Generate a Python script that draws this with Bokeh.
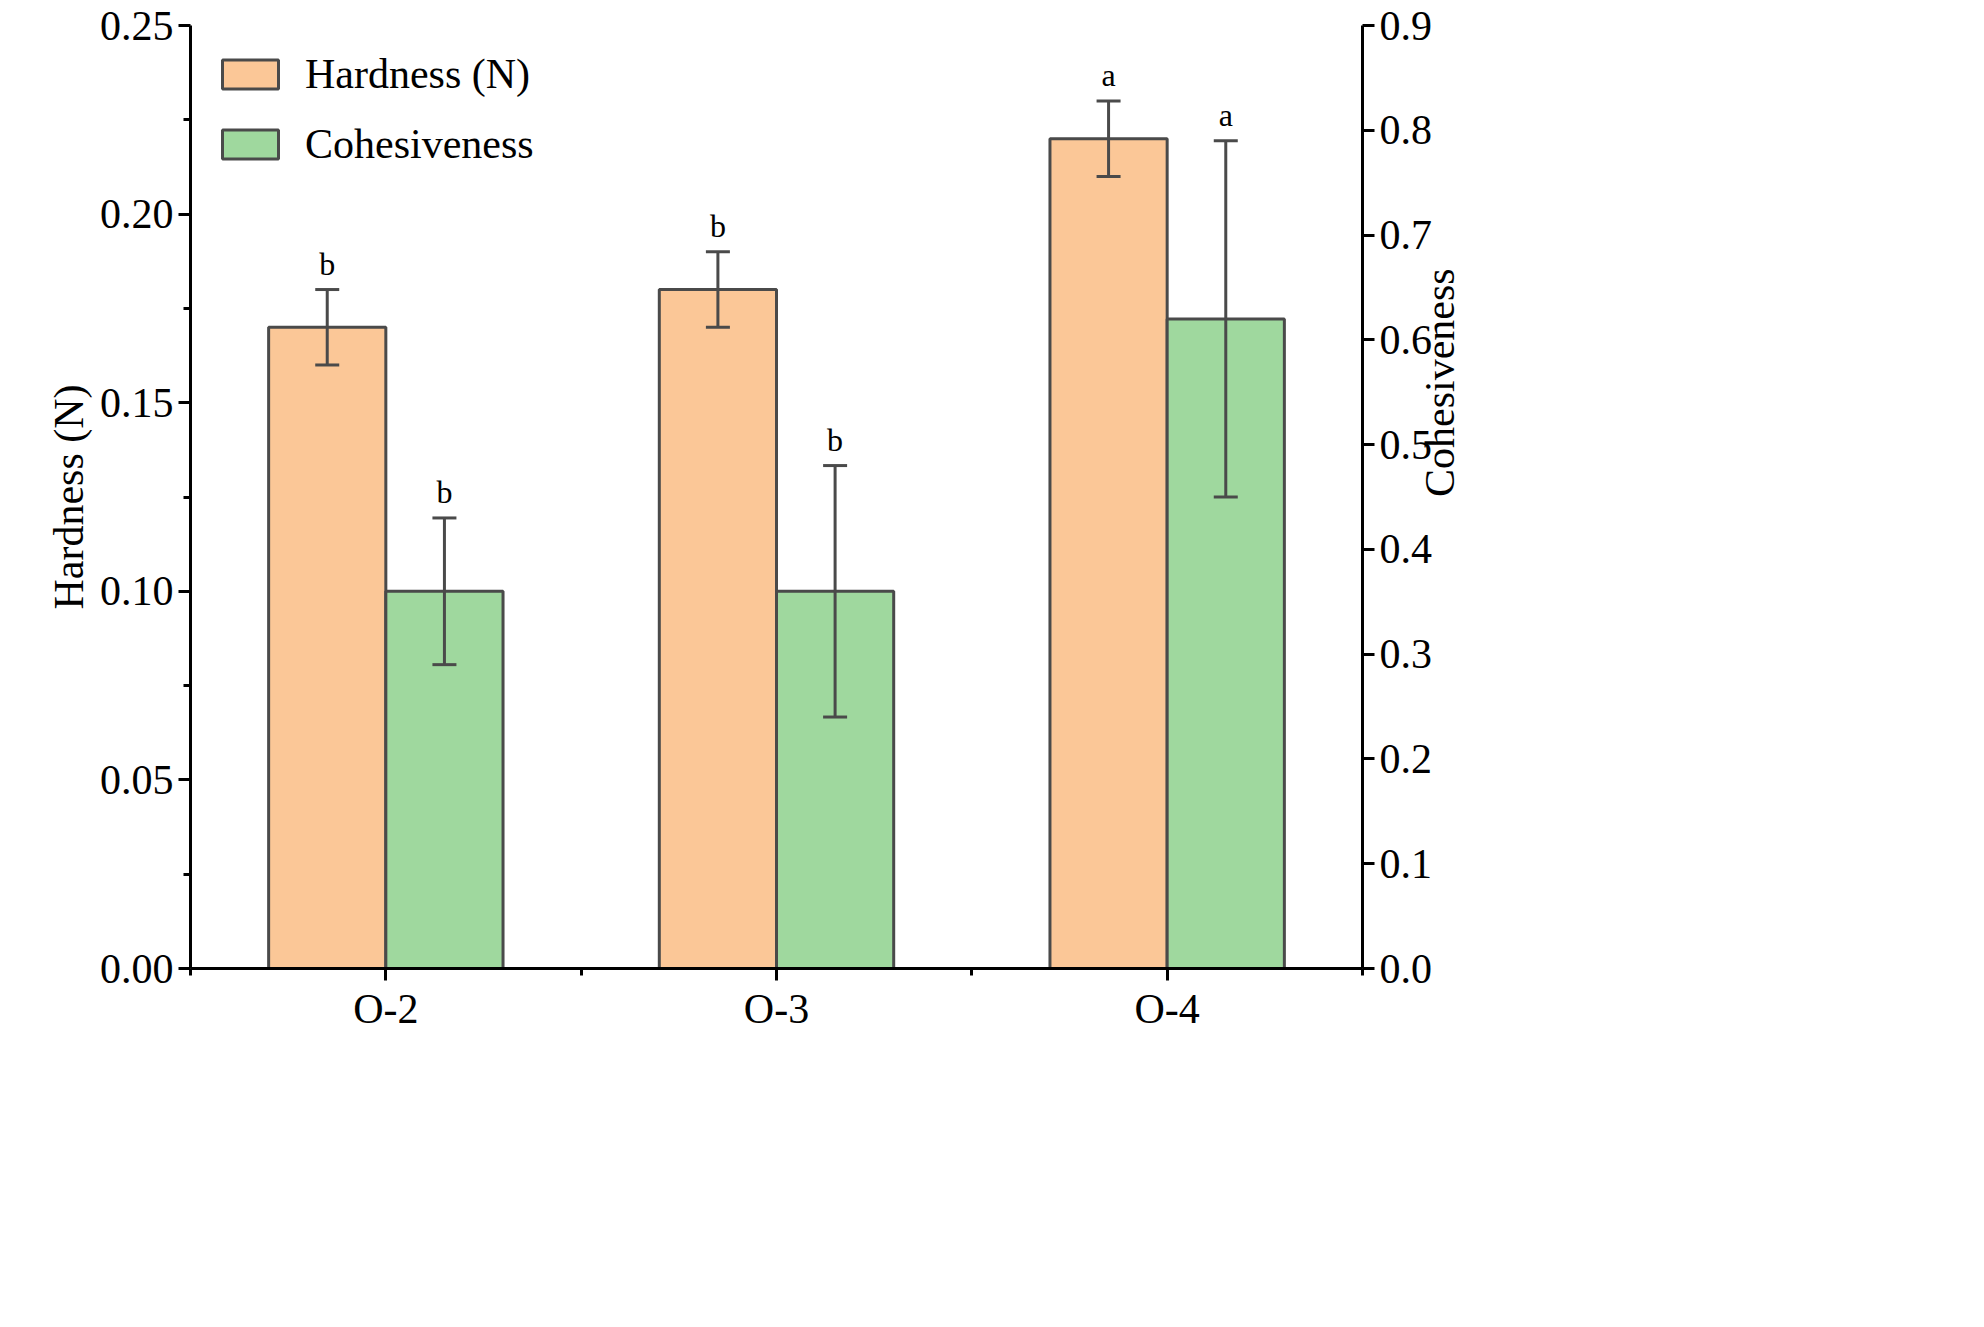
import math
from bokeh.plotting import figure
from bokeh.models import Range1d, LinearAxis, FixedTicker, Whisker, TeeHead, ColumnDataSource, Legend, LegendItem, CustomJSTickFormatter
from bokeh.core.properties import value
from bokeh.embed import file_html
from bokeh.resources import INLINE

categories = ["O-2", "O-3", "O-4"]
hardness = [0.17, 0.18, 0.22]
hardness_err = [0.01, 0.01, 0.01]
hardness_sig = ["b", "b", "a"]
cohesiveness = [0.36, 0.36, 0.62]
cohesiveness_err = [0.07, 0.12, 0.17]
cohesiveness_sig = ["b", "b", "a"]

FONT = "Liberation Serif"
x = [1, 2, 3]
W = 0.3

p = figure(frame_width=1172, frame_height=943, x_range=Range1d(0.5, 3.5), y_range=Range1d(0, 0.25),
           output_backend="svg", toolbar_location=None, min_border_left=190, min_border_right=170,
           min_border_top=25, min_border_bottom=70)
p.outline_line_color = None
p.grid.grid_line_color = None
p.extra_y_ranges = {"coh": Range1d(0, 0.9)}

hs = ColumnDataSource(dict(x=[v - W / 2 for v in x], y=hardness, lo=[a - b for a, b in zip(hardness, hardness_err)],
                           hi=[a + b for a, b in zip(hardness, hardness_err)], t=hardness_sig))
cs = ColumnDataSource(dict(x=[v + W / 2 for v in x], y=cohesiveness, lo=[a - b for a, b in zip(cohesiveness, cohesiveness_err)],
                           hi=[a + b for a, b in zip(cohesiveness, cohesiveness_err)], t=cohesiveness_sig))

r1 = p.vbar(x="x", top="y", width=W, source=hs, fill_color="#FBC797", line_color="#4a4a4a", line_width=3)
r2 = p.vbar(x="x", top="y", width=W, source=cs, fill_color="#9FD89E", line_color="#4a4a4a", line_width=3, y_range_name="coh")

for src, rn in ((hs, "default"), (cs, "coh")):
    w = Whisker(base="x", lower="lo", upper="hi", source=src, y_range_name=rn, line_color="#4a4a4a", line_width=3,
                level="overlay",
                upper_head=TeeHead(size=24, line_color="#4a4a4a", line_width=3),
                lower_head=TeeHead(size=24, line_color="#4a4a4a", line_width=3))
    p.add_layout(w)
    p.text(x="x", y="hi", text="t", source=src, y_range_name=rn, text_font=value(FONT), text_font_size="32px",
           text_align="center", text_baseline="bottom", y_offset=-8, text_color="black")

def style(ax):
    ax.axis_line_width = 3
    ax.axis_line_color = "black"
    ax.major_tick_line_width = 3
    ax.minor_tick_line_width = 3
    ax.major_tick_out = 12
    ax.major_tick_in = 0
    ax.minor_tick_out = 7
    ax.minor_tick_in = 0
    ax.major_label_text_font = FONT
    ax.major_label_text_font_size = "42px"
    ax.major_label_text_color = "black"
    ax.axis_label_text_font = FONT
    ax.axis_label_text_font_size = "42px"
    ax.axis_label_text_font_style = "normal"
    ax.axis_label_text_color = "black"

xa = p.xaxis[0]
xa.ticker = FixedTicker(ticks=x, minor_ticks=[0.5, 1.5, 2.5, 3.5])
xa.major_label_overrides = {1: categories[0], 2: categories[1], 3: categories[2]}
style(xa)

ya = p.yaxis[0]
ya.ticker = FixedTicker(ticks=[0, 0.05, 0.1, 0.15, 0.2, 0.25], minor_ticks=[0.025, 0.075, 0.125, 0.175, 0.225])
ya.axis_label = "Hardness (N)"
ya.formatter = CustomJSTickFormatter(code="return tick.toFixed(2);")
style(ya)

ra = LinearAxis(y_range_name="coh", axis_label="Cohesiveness")
ra.ticker = FixedTicker(ticks=[i / 10 for i in range(10)], minor_ticks=[])
ra.formatter = CustomJSTickFormatter(code="return tick.toFixed(1);")
ra.axis_label_orientation = math.pi / 2
style(ra)
p.add_layout(ra, "right")

leg = Legend(items=[LegendItem(label="Hardness (N)", renderers=[r1]), LegendItem(label="Cohesiveness", renderers=[r2])],
             location="top_left", glyph_width=70, glyph_height=36, label_text_font=FONT, label_text_font_size="42px",
             label_text_color="black",
             border_line_color=None, background_fill_alpha=0, spacing=22, label_standoff=20, margin=25)
p.add_layout(leg)

open("out.html", "w").write(file_html(p, INLINE))
